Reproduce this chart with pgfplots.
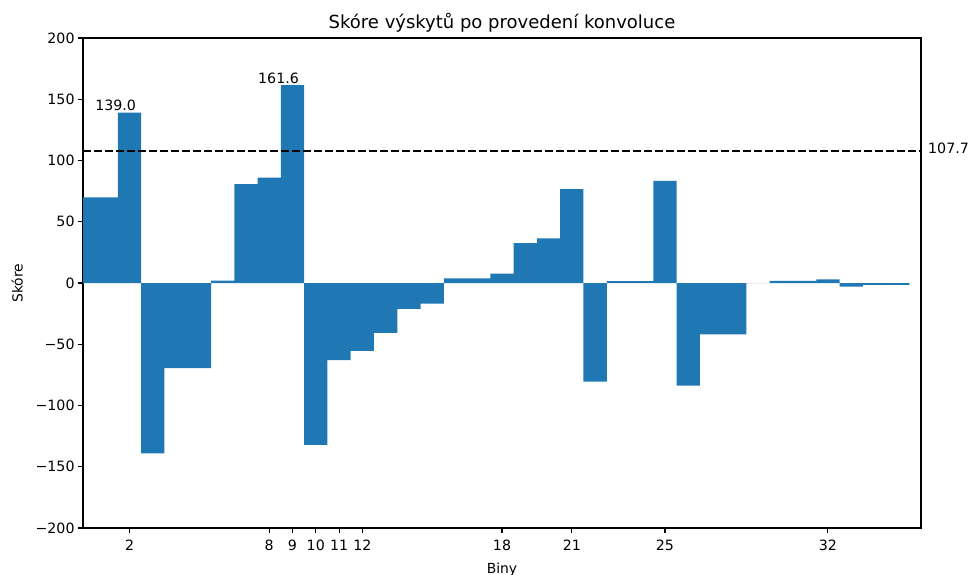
\documentclass[border=0pt]{standalone}
\usepackage{fontspec}
\setmainfont{DejaVu Sans}
\usepackage{pgfplots}
\pgfplotsset{compat=1.18}
\definecolor{mplblue}{HTML}{1F77B4}
\begin{document}
\begin{tikzpicture}
\path[use as bounding box] (0pt,0pt) rectangle (969pt,574pt);
\begin{axis}[
  at={(83pt,46pt)}, anchor=south west,
  scale only axis, width=838pt, height=490pt,
  xmin=0, xmax=36, ymin=-200, ymax=200,
  clip mode=individual,
  axis line style={line width=1.1pt},
  tick style={line width=1.1pt, black},
  major tick length=4.9pt,
  tick align=outside,
  tick pos=left,
  xtick={2,8,9,10,11,12,18,21,25,32},
  ytick={-200,-150,-100,-50,0,50,100,150,200},
  yticklabels={−200,−150,−100,−50,0,50,100,150,200},
  /pgf/number format/assume math mode=true,
  tick label style={font=\fontsize{14.2}{16}\selectfont},
  xticklabel style={yshift=-4pt},
  label style={font=\fontsize{13.9}{16}\selectfont},
  xlabel shift=5pt,
  ylabel shift=6pt,
  title style={font=\fontsize{18}{21}\selectfont, yshift=-4pt},
  title={Skóre výskytů po provedení konvoluce},
  xlabel={Biny},
  ylabel={Skóre},
]
\addplot[ybar, bar width=1, bar shift=0pt, fill=mplblue, draw=none] coordinates {
(0,70) (1,70) (2,139.0) (3,-139) (4,-69.5) (5,-69.5) (6,2) (7,80.8) (8,86) (9,161.6)
(10,-132.2) (11,-62.9) (12,-55.5) (13,-40.8) (14,-21.2) (15,-16.9) (16,3.8) (17,3.8)
(18,7.6) (19,32.6) (20,36.4) (21,76.7) (22,-80.5) (23,1.6) (24,1.6) (25,83.3)
(26,-83.8) (27,-41.9) (28,-41.9) (29,0) (30,1.7) (31,1.7) (32,3) (33,-3) (34,-1.5) (35,-1.5)
};
\addplot[black, line width=2.1pt, dash pattern=on 7.7pt off 3.3pt] coordinates {(0,107.7) (36,107.7)};
\node[anchor=west, inner sep=0pt, yshift=3pt, font=\fontsize{14.2}{16}\selectfont] at (axis cs:36.3,107.7) {107.7};
\node[anchor=south, inner sep=1.5pt, font=\fontsize{14.2}{16}\selectfont] at (axis cs:1.4,139.0) {139.0};
\node[anchor=south, inner sep=1.5pt, font=\fontsize{14.2}{16}\selectfont] at (axis cs:8.4,161.6) {161.6};
\end{axis}
\end{tikzpicture}
\end{document}
